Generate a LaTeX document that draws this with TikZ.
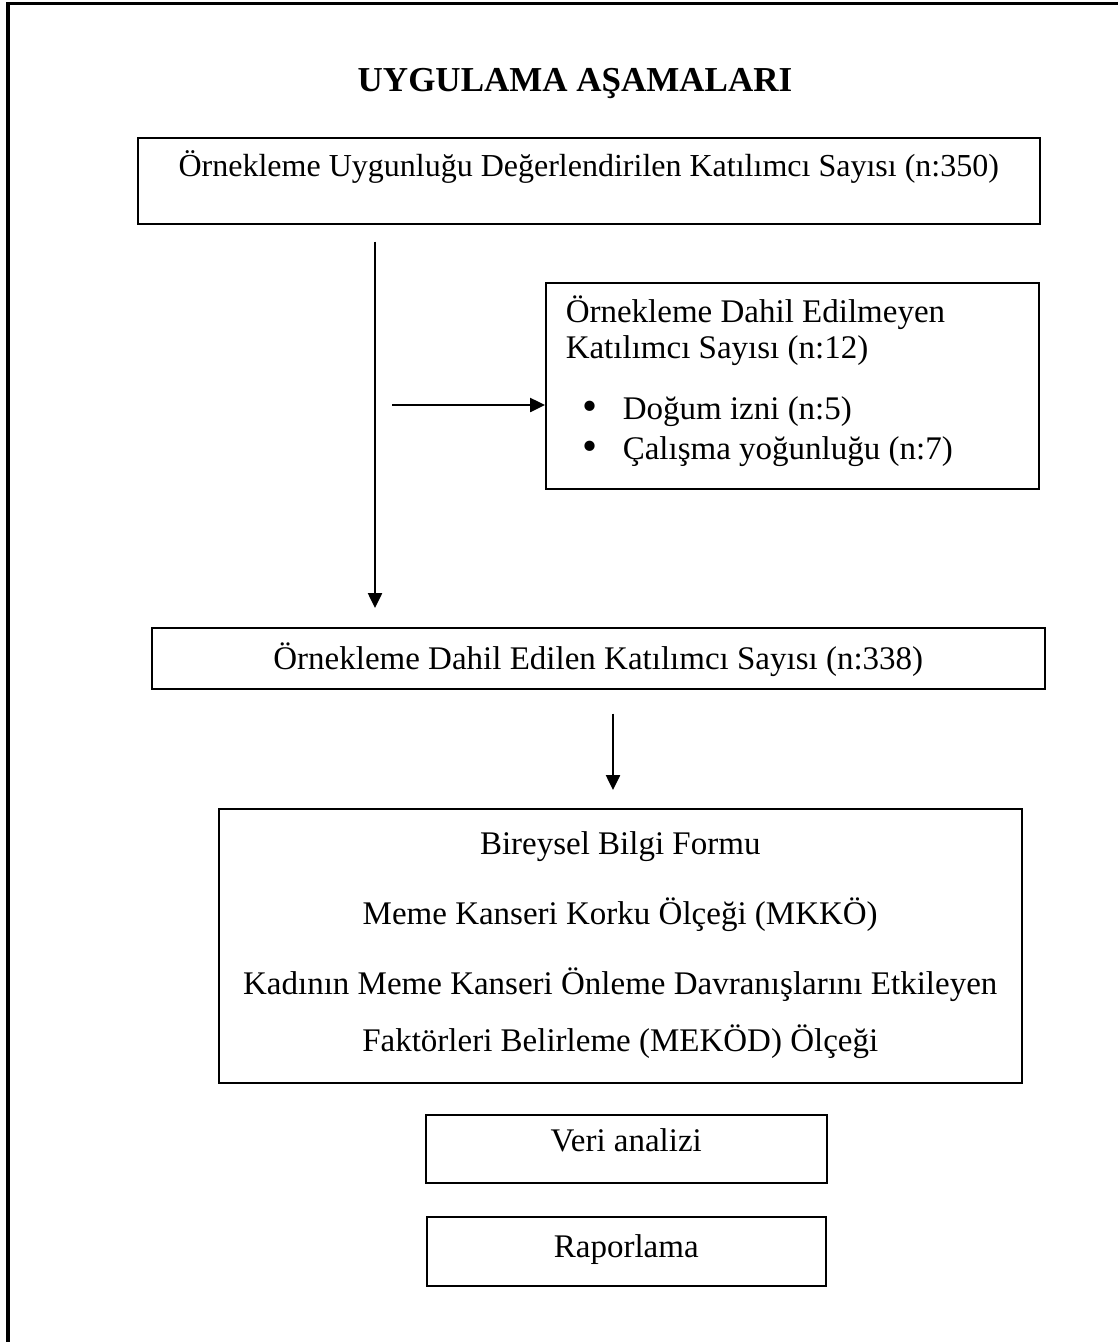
\documentclass[tikz,border=0pt]{standalone}
\usepackage{fontspec}
\setmainfont{Liberation Serif}
\usetikzlibrary{arrows.meta, positioning, calc}
\newcommand{\listpoint}[1]{\makebox[57pt][l]{\hspace*{17pt}\raisebox{-1pt}[0pt][0pt]{\scalebox{1.3}{\textbullet}}}#1}

\begin{document}
\begin{tikzpicture}[
    x=1pt, y=-1pt,
    every node/.style={font=\fontsize{33}{38}\selectfont},
    box/.style={rectangle, draw, line width=1.5pt, inner sep=0pt, anchor=north west},
    arrow/.style={draw, -{Triangle[length=15pt,width=14pt]}, line width=2.5pt}
]
\useasboundingbox (0,0) rectangle (1118,1342);
\draw[line width=3.5pt] (8,1342) -- (8,3.5) -- (1118,3.5);

\node[anchor=base, font=\fontsize{35}{40}\selectfont] (title) at (575,91) {\textbf{UYGULAMA AŞAMALARI}};

\node[box, font=\fontsize{32}{38}\selectfont, minimum width=902pt, text height=39pt, text depth=47pt] (sample) at (137,137)
    {Örnekleme Uygunluğu Değerlendirilen Katılımcı Sayısı (n:350)};

\node[box, font=\fontsize{33}{36}\selectfont, inner xsep=20pt, text width=453pt, align=flush left, text height=40pt, text depth=166pt] (excl) at (545,282)
    {Örnekleme Dahil Edilmeyen\\
     Katılımcı Sayısı (n:12)\\[25pt]
     \listpoint{Doğum izni (n:5)}\\[4pt]
     \listpoint{Çalışma yoğunluğu (n:7)}};

\node[box, minimum width=893pt, text height=42pt, text depth=19pt] (included) at (151,627)
    {Örnekleme Dahil Edilen Katılımcı Sayısı (n:338)};

\node[box, text width=803pt, align=flush center, text height=46pt, text depth=228pt] (forms) at (218,808)
    {Bireysel Bilgi Formu\\[32pt]
     Meme Kanseri Korku Ölçeği (MKKÖ)\\[32pt]
     Kadının Meme Kanseri Önleme Davranışlarını Etkileyen\\[19pt]
     Faktörleri Belirleme (MEKÖD) Ölçeği};

\node[box, minimum width=401pt, text height=37pt, text depth=31pt] (analysis) at (425,1114) {Veri analizi};
\node[box, minimum width=399pt, text height=41pt, text depth=28pt] (report) at (426,1216) {Raporlama};

\coordinate (colA) at (375,0);
\coordinate (branch) at (392,405);
\coordinate (colC) at (613,0);

\draw[arrow, shorten <=17pt, shorten >=19pt] (sample.south -| colA) -- (included.north -| colA);
\draw[arrow] (branch) -- (excl.west |- branch);
\draw[arrow, shorten <=24pt, shorten >=18pt] (included.south -| colC) -- (forms.north -| colC);

\end{tikzpicture}
\end{document}
